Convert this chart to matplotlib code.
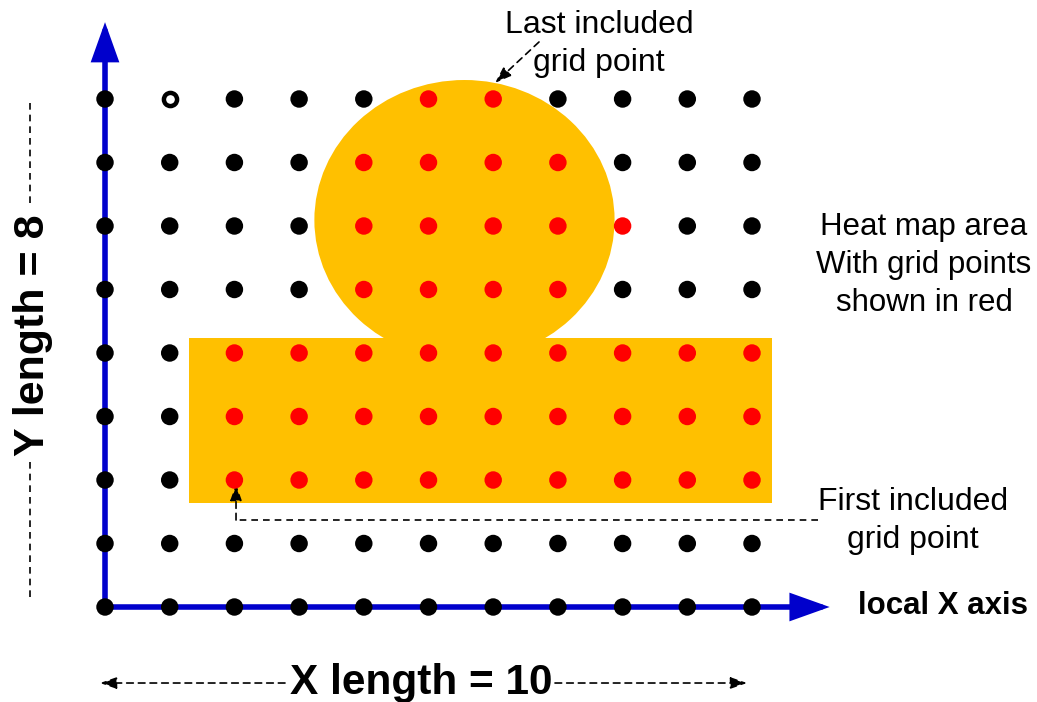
import matplotlib.pyplot as plt
from matplotlib.patches import Ellipse, Rectangle
import numpy as np

plt.rcParams['font.family'] = ['Liberation Sans', 'DejaVu Sans']

# grid of the local axes
x_cols = np.arange(0, 11)
y_rows = np.arange(0, 9)

# grid points that fall inside the heat map area, per row
included = {
    8: [5, 6],
    7: [4, 5, 6, 7],
    6: [4, 5, 6, 7, 8],
    5: [4, 5, 6, 7],
    4: [2, 3, 4, 5, 6, 7, 8, 9, 10],
    3: [2, 3, 4, 5, 6, 7, 8, 9, 10],
    2: [2, 3, 4, 5, 6, 7, 8, 9, 10],
}
hollow_point = (1, 8)

# heat map shape (rectangle + circle), in grid units
rect_x = [1.30, 10.31]
rect_y = [1.64, 4.24]
circle_center = (5.556, 6.094)
circle_radius = (2.32, 2.205)

ORANGE = '#FFC000'
RED = '#FF0000'
BLUE = '#0000CC'

fig = plt.figure(figsize=(10.37, 7.02), dpi=100)
ax = fig.add_axes([0, 0, 1, 1])
ax.set_xlim(-1.623, 14.405)
ax.set_ylim(-1.496, 9.559)
ax.axis('off')

# heat map area
ax.add_patch(Rectangle((rect_x[0], rect_y[0]), rect_x[1] - rect_x[0], rect_y[1] - rect_y[0],
                       facecolor=ORANGE, edgecolor='none', zorder=1))
ax.add_patch(Ellipse(circle_center, 2 * circle_radius[0], 2 * circle_radius[1],
                     facecolor=ORANGE, edgecolor='none', zorder=1))

# local axes (blue arrows)
axis_style = '-|>,head_length=21,head_width=7.5'
axis_props = dict(arrowstyle=axis_style, color=BLUE, lw=4, mutation_scale=1,
                  shrinkA=0, shrinkB=0, joinstyle='miter')
ax.annotate('', xy=(0, 9.21), xytext=(0, 0), arrowprops=axis_props, zorder=2)
ax.annotate('', xy=(11.2, 0), xytext=(0, 0), arrowprops=axis_props, zorder=2)

# grid points
gx, gy = np.meshgrid(x_cols, y_rows)
gx = gx.ravel()
gy = gy.ravel()
is_red = np.array([x in included.get(y, []) for x, y in zip(gx, gy)])
is_hollow = (gx == hollow_point[0]) & (gy == hollow_point[1])
black = ~is_red & ~is_hollow
ax.scatter(gx[black], gy[black], s=158, color='black', edgecolors='none', zorder=4)
ax.scatter(gx[is_red], gy[is_red], s=158, color=RED, edgecolors='none', zorder=4)
ax.scatter(gx[is_hollow], gy[is_hollow], s=90, facecolors='white', edgecolors='black',
           linewidths=3.2, zorder=4)

dash = (0, (4, 3))
small_head = '-|>,head_length=10,head_width=3.5'


def dashed_arrow(tip, start):
    ax.annotate('', xy=tip, xytext=start,
                arrowprops=dict(arrowstyle=small_head, color='black', lw=1.2, linestyle=dash,
                                mutation_scale=1, shrinkA=0, shrinkB=0))


# last included point
ax.text(7.635, 8.87, 'Last included\ngrid point', ha='center', va='center',
        fontsize=23, linespacing=1.35)
dashed_arrow((6.028, 8.252), (6.708, 8.898))

# first included point
ax.text(12.49, 1.36, 'First included\ngrid point', ha='center', va='center',
        fontsize=23, linespacing=1.35)
ax.plot([11.02, 2.025], [1.37, 1.37], color='black', lw=1.2, linestyle=dash)
dashed_arrow((2.025, 1.937), (2.025, 1.37))

ax.text(12.66, 5.38, 'Heat map area\nWith grid points\nshown in red', ha='center', va='center',
        fontsize=22.5, linespacing=1.35)

ax.text(11.64, 0.016, 'local X axis', ha='left', va='center', fontsize=22.5, fontweight='bold')

# X length
ax.text(4.884, -1.197, 'X length = 10', ha='center', va='center', fontsize=30.5, fontweight='bold')
dashed_arrow((-0.077, -1.197), (2.782, -1.197))
dashed_arrow((9.923, -1.197), (6.955, -1.197))

# Y length
ax.text(-1.12, 4.283, 'Y length = 8', ha='center', va='center', rotation=90,
        fontsize=31, fontweight='bold')
ax.plot([-1.159, -1.159], [7.937, 6.30], color='black', lw=1.2, linestyle=dash)
ax.plot([-1.159, -1.159], [2.28, 0.142], color='black', lw=1.2, linestyle=dash)

fig.savefig('out.png', dpi=100)
